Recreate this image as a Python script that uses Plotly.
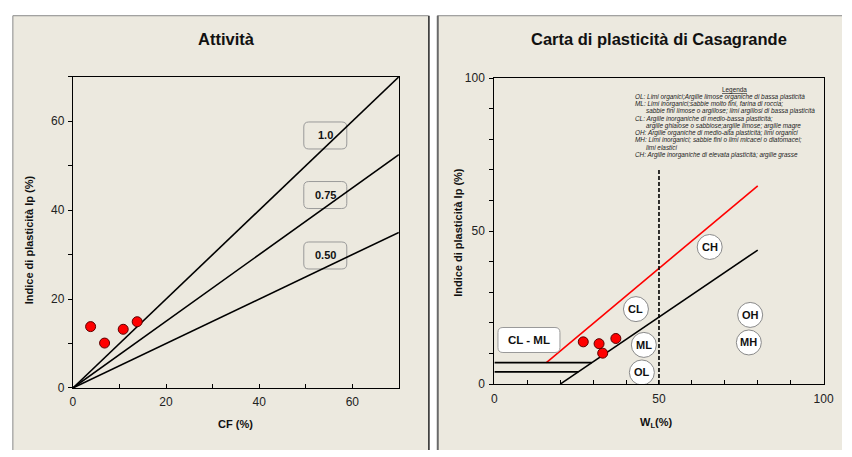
import plotly.graph_objects as go

# ---- data ----
cf = [3.8, 6.8, 10.8, 13.8]          # frazione argillosa CF (%)
ip = [13.8, 10.1, 13.2, 14.9]        # indice di plasticità Ip (%)
wl = [27.0, 32.9, 31.8, 36.9]        # limite liquido WL (%)

activity_slopes = [1.0, 0.75, 0.50]
activity_labels = ["1.0", "0.75", "0.50"]
activity_label_pos = [(54.2, 56.8), (54.2, 43.4), (54.2, 29.8)]

aline_wl = [20, 80]                  # linea A: Ip = 0.73 (WL - 20)
uline_wl = [15.8, 80]                # linea U: Ip = 0.9 (WL - 8)
clml_bands = [7, 4]                  # limiti della zona CL-ML
wl_split = 50
wl_split_top = 70

zone_labels = ["CH", "CL", "ML", "OL", "OH", "MH"]
zone_wl = [65.4, 43.0, 45.4, 44.8, 77.7, 77.3]
zone_ip = [44.8, 24.5, 12.8, 3.8, 22.6, 13.6]

legend_lines = [
    ("OL: Limi organici;Argille limose organiche di bassa plasticità", 0),
    ("ML: Limi inorganici;sabbie molto fini, farina di roccia;", 0),
    ("sabbie fini limose o argillose; limi argillosi di bassa plasticità", 1),
    ("CL: Argille inorganiche di medio-bassa plasticità;", 0),
    ("argille ghiaiose o sabbiose;argille limose; argille magre", 1),
    ("OH: Argille organiche di medio-alta plasticità; limi organici", 0),
    ("MH: Limi inorganici; sabbie fini o limi micacei o diatomacei;", 0),
    ("limi elastici", 1),
    ("CH: Argille inorganiche di elevata plasticità; argille grasse", 0),
]

W, H = 852, 457
FONT = "Liberation Sans, Arial, sans-serif"
BEIGE = "#ECE9DF"


def px(x):
    return x / W


def py(y):
    return 1 - y / H


def rounded_rect(w, h, r):
    x0, x1, y0, y1 = -w / 2, w / 2, -h / 2, h / 2
    return (f"M{x0 + r},{y0} L{x1 - r},{y0} Q{x1},{y0} {x1},{y0 + r} "
            f"L{x1},{y1 - r} Q{x1},{y1} {x1 - r},{y1} L{x0 + r},{y1} "
            f"Q{x0},{y1} {x0},{y1 - r} L{x0},{y0 + r} Q{x0},{y0} {x0 + r},{y0} Z")


def note(text, x, y, xref="paper", yref="paper", size=11, xanchor="center", **kw):
    return dict(text=text, x=x, y=y, xref=xref, yref=yref, showarrow=False,
                xanchor=xanchor, yanchor="middle",
                font=dict(size=size, color=kw.pop("color", "#111"), family=FONT), **kw)


fig = go.Figure()

# ---- Attività ----
for s in activity_slopes:
    fig.add_trace(go.Scatter(x=[0, 70], y=[0, 70 * s], mode="lines",
                             line=dict(color="black", width=1.6),
                             xaxis="x", yaxis="y", hoverinfo="skip"))
fig.add_trace(go.Scatter(x=cf, y=ip, mode="markers",
                         marker=dict(color="#FF0000", size=10,
                                     line=dict(color="#5a0000", width=1)),
                         xaxis="x", yaxis="y"))

# ---- Carta di plasticità ----
fig.add_trace(go.Scatter(x=aline_wl, y=[0.73 * (w - 20) for w in aline_wl],
                         mode="lines", line=dict(color="black", width=1.6),
                         xaxis="x2", yaxis="y2", hoverinfo="skip"))
fig.add_trace(go.Scatter(x=uline_wl, y=[0.9 * (w - 8) for w in uline_wl],
                         mode="lines", line=dict(color="#FF0000", width=1.6),
                         xaxis="x2", yaxis="y2", hoverinfo="skip"))
for b in clml_bands:
    fig.add_trace(go.Scatter(x=[0, 20 + b / 0.73], y=[b, b], mode="lines",
                             line=dict(color="black", width=1.6),
                             xaxis="x2", yaxis="y2", hoverinfo="skip"))
fig.add_trace(go.Scatter(x=[wl_split, wl_split], y=[0, wl_split_top], mode="lines",
                         line=dict(color="black", width=1.6, dash="4px,2px"),
                         xaxis="x2", yaxis="y2", hoverinfo="skip"))
fig.add_trace(go.Scatter(x=wl, y=ip, mode="markers",
                         marker=dict(color="#FF0000", size=10,
                                     line=dict(color="#5a0000", width=1)),
                         xaxis="x2", yaxis="y2"))

shapes = [
    # pannelli
    dict(type="rect", xref="paper", yref="paper", x0=px(10), x1=px(432), y0=0, y1=py(9),
         fillcolor=BEIGE, line_width=0, layer="below"),
    dict(type="rect", xref="paper", yref="paper", x0=px(441), x1=1, y0=0, y1=py(9),
         fillcolor=BEIGE, line_width=0, layer="below"),
    dict(type="line", xref="paper", yref="paper", x0=px(10), x1=px(432), y0=py(9), y1=py(9),
         line=dict(color="#8a8a8a", width=1), layer="below"),
    dict(type="line", xref="paper", yref="paper", x0=px(10), x1=px(10), y0=0, y1=py(9),
         line=dict(color="#8a8a8a", width=1), layer="below"),
    dict(type="line", xref="paper", yref="paper", x0=px(432.5), x1=px(432.5), y0=0, y1=py(9),
         line=dict(color="#222222", width=1.5), layer="below"),
    dict(type="line", xref="paper", yref="paper", x0=px(441), x1=1, y0=py(9), y1=py(9),
         line=dict(color="#8a8a8a", width=1), layer="below"),
    dict(type="line", xref="paper", yref="paper", x0=px(441.5), x1=px(441.5), y0=0, y1=py(9),
         line=dict(color="#6a6a6a", width=2), layer="below"),
]

annotations = [
    note("<b>Attività</b>", px(227), py(33), size=16.5),
    note("<b>Carta di plasticità di Casagrande</b>", px(666), py(33), size=16.5),
    note("<b>CF (%)</b>", px(236), py(430)),
    note("<b>W<sub>L</sub>(%)</b>", px(664), py(429)),
    note("<b>Indice di plasticità Ip (%)</b>", px(26), py(240), textangle=-90),
    note("<b>Indice di plasticità Ip (%)</b>", px(462), py(232), textangle=-90),
]

# etichette di attività nei riquadri arrotondati
for lab, (lx, ly) in zip(activity_labels, activity_label_pos):
    shapes.append(dict(type="path", xref="x", yref="y", xsizemode="pixel", ysizemode="pixel",
                       xanchor=lx, yanchor=ly, path=rounded_rect(43, 27, 5),
                       line=dict(color="#9a9a9a", width=1), fillcolor="rgba(0,0,0,0)",
                       layer="below"))
    annotations.append(note(f"<b>{lab}</b>", lx, ly, xref="x", yref="y"))

# zona CL - ML
shapes.append(dict(type="path", xref="x2", yref="y2", xsizemode="pixel", ysizemode="pixel",
                   xanchor=10.5, yanchor=14.4, path=rounded_rect(62, 25, 5),
                   line=dict(color="#9a9a9a", width=1), fillcolor="white", layer="above"))
annotations.append(note("<b>CL - ML</b>", 10.5, 14.4, xref="x2", yref="y2", size=11.5))

# cerchi delle classi
for lab, zx, zy in zip(zone_labels, zone_wl, zone_ip):
    shapes.append(dict(type="circle", xref="x2", yref="y2", xsizemode="pixel",
                       ysizemode="pixel", xanchor=zx, yanchor=zy, x0=-12.5, x1=12.5,
                       y0=-12.5, y1=12.5, line=dict(color="#8a8a8a", width=1),
                       fillcolor="white", layer="above"))
    annotations.append(note(f"<b>{lab}</b>", zx, zy, xref="x2", yref="y2"))

# legenda testuale
annotations.append(note("<u>Legenda</u>", px(743), py(86), size=6.4, color="#222"))
legend_y = [92.7, 100, 107.3, 115.3, 122.7, 129.7, 137.7, 145.3, 152.7]
for (txt, indent), ly in zip(legend_lines, legend_y):
    annotations.append(note(f"<i>{txt}</i>", px(651 if indent else 639.5), py(ly),
                            size=6.4, xanchor="left", color="#222"))

axis_common = dict(showline=True, mirror=True, linecolor="black", linewidth=1.2,
                   showgrid=False, zeroline=False, ticklen=4, tickcolor="black",
                   tickfont=dict(size=12, color="#222", family=FONT), fixedrange=True)

fig.update_layout(
    width=W, height=H, margin=dict(l=0, r=0, t=0, b=0),
    paper_bgcolor="white", plot_bgcolor="white", showlegend=False,
    xaxis=dict(domain=[px(71), px(402)], range=[0, 70], tick0=0, dtick=20, ticks="inside",
               minor=dict(dtick=10, ticks="inside", ticklen=4, tickcolor="black"),
               ticklabelstandoff=3, anchor="y", **axis_common),
    yaxis=dict(domain=[py(393), py(72)], range=[0, 70], tick0=0, dtick=20, ticks="outside",
               minor=dict(dtick=10, ticks="outside", ticklen=4, tickcolor="black"),
               ticklabelstandoff=1, anchor="x", **axis_common),
    xaxis2=dict(domain=[px(499), px(833.3)], range=[0, 100], tick0=0, dtick=50,
                ticks="inside",
                minor=dict(dtick=10, ticks="inside", ticklen=4, tickcolor="black"),
                ticklabelstandoff=3, anchor="y2", **axis_common),
    yaxis2=dict(domain=[py(389), py(73.3)], range=[0, 100], tick0=0, dtick=50,
                ticks="outside",
                minor=dict(dtick=10, ticks="outside", ticklen=4, tickcolor="black"),
                ticklabelstandoff=2, anchor="x2", **axis_common),
    shapes=shapes, annotations=annotations,
)

fig.write_html("out.html")
